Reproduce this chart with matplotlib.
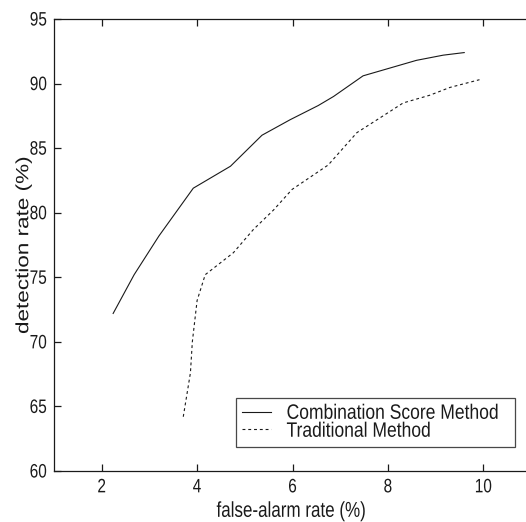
import matplotlib
matplotlib.use("Agg")
import matplotlib.pyplot as plt
from matplotlib.patheffects import AbstractPathEffect
from matplotlib.transforms import Affine2D

plt.rcParams['font.family'] = ['Liberation Sans', 'DejaVu Sans']

# Data
combo_x = [2.24, 2.68, 3.2, 3.92, 4.70, 5.36, 5.95, 6.54, 6.86, 7.48, 8.04, 8.60, 9.16, 9.60]
combo_y = [72.2, 75.2, 78.2, 81.9, 83.6, 86.0, 87.2, 88.3, 89.0, 90.6, 91.2, 91.8, 92.2, 92.4]
trad_x = [3.71, 3.86, 3.90, 4.00, 4.17, 4.76, 5.18, 5.60, 5.99, 6.75, 7.35, 7.90, 8.32, 8.88, 9.30, 9.92]
trad_y = [64.2, 67.6, 70.0, 73.2, 75.2, 76.9, 78.7, 80.2, 81.8, 83.7, 86.2, 87.5, 88.5, 89.1, 89.7, 90.3]
xticks = [2, 4, 6, 8, 10]
yticks = [60, 65, 70, 75, 80, 85, 90, 95]
labels = ['Combination Score Method', 'Traditional Method']


class Squeeze(AbstractPathEffect):
    """Scale rendered text horizontally about an anchor (reference is condensed)."""
    def __init__(self, sx=1.0, sy=1.0, anchor='center'):
        super().__init__()
        self.sx, self.sy, self.anchor = sx, sy, anchor

    def draw_path(self, renderer, gc, tpath, affine, rgbFace=None):
        ext = tpath.transformed(affine).get_extents()
        if self.anchor == 'right':
            cx = ext.x1
        elif self.anchor == 'left':
            cx = ext.x0
        else:
            cx = (ext.x0 + ext.x1) / 2
        cy = (ext.y0 + ext.y1) / 2
        t = affine + Affine2D().translate(-cx, -cy).scale(self.sx, self.sy).translate(cx, cy)
        renderer.draw_path(gc, tpath, t, rgbFace)


W, H = 526, 522
fig = plt.figure(figsize=(W / 100, H / 100), dpi=100)
ax = fig.add_axes([54 / W, 1 - 471 / H, (531 - 54) / W, (471 - 19) / H])
lc = '#1a1a1a'
ax.plot(combo_x, combo_y, '-', color=lc, lw=0.8, label=labels[0])
ax.plot(trad_x, trad_y, color=lc, lw=0.8, linestyle=(0, (2.6, 2.6)), label=labels[1])
ax.set_xlim(1, 11)
ax.set_ylim(60, 95)
ax.set_xticks(xticks)
ax.set_yticks(yticks)
ax.tick_params(direction='in', length=5, width=0.9, top=True, right=False,
               labelsize=14, colors='#1a1a1a')
ax.tick_params(axis='x', pad=6)
ax.tick_params(axis='y', pad=5)
for s in ax.spines.values():
    s.set_linewidth(0.9)
    s.set_color('#1a1a1a')

for t in ax.xaxis.get_major_ticks():
    t.label1.set_path_effects([Squeeze(0.79, 1.0, 'center')])
for t in ax.yaxis.get_major_ticks():
    t.label1.set_path_effects([Squeeze(0.79, 1.0, 'right')])

xl = ax.set_xlabel('false-alarm rate (%)', fontsize=15.5, color='#1a1a1a')
xl.set_path_effects([Squeeze(0.79, 1.0, 'center')])
ax.xaxis.set_label_coords(0.497, -0.066)
yl = ax.set_ylabel('detection rate (%)', fontsize=16.2, color='#1a1a1a')
yl.set_path_effects([Squeeze(0.79, 1.0, 'center')])
ax.yaxis.set_label_coords(-0.041, 0.50)

leg = ax.legend(loc='lower left',
                bbox_to_anchor=(236 / W, 1 - 447 / H, (515 - 236) / W, (447 - 391) / H),
                bbox_transform=fig.transFigure, mode='expand', borderaxespad=0,
                fontsize=15, frameon=True, fancybox=False, handlelength=1.4,
                handletextpad=0.72, labelspacing=-0.05, borderpad=0.3)
leg.get_frame().set_edgecolor('#1a1a1a')
leg.get_frame().set_linewidth(0.9)
for txt in leg.get_texts():
    txt.set_color('#1a1a1a')
    txt.set_path_effects([Squeeze(0.84, 1.0, 'left')])

fig.savefig('out.png', dpi=100)
